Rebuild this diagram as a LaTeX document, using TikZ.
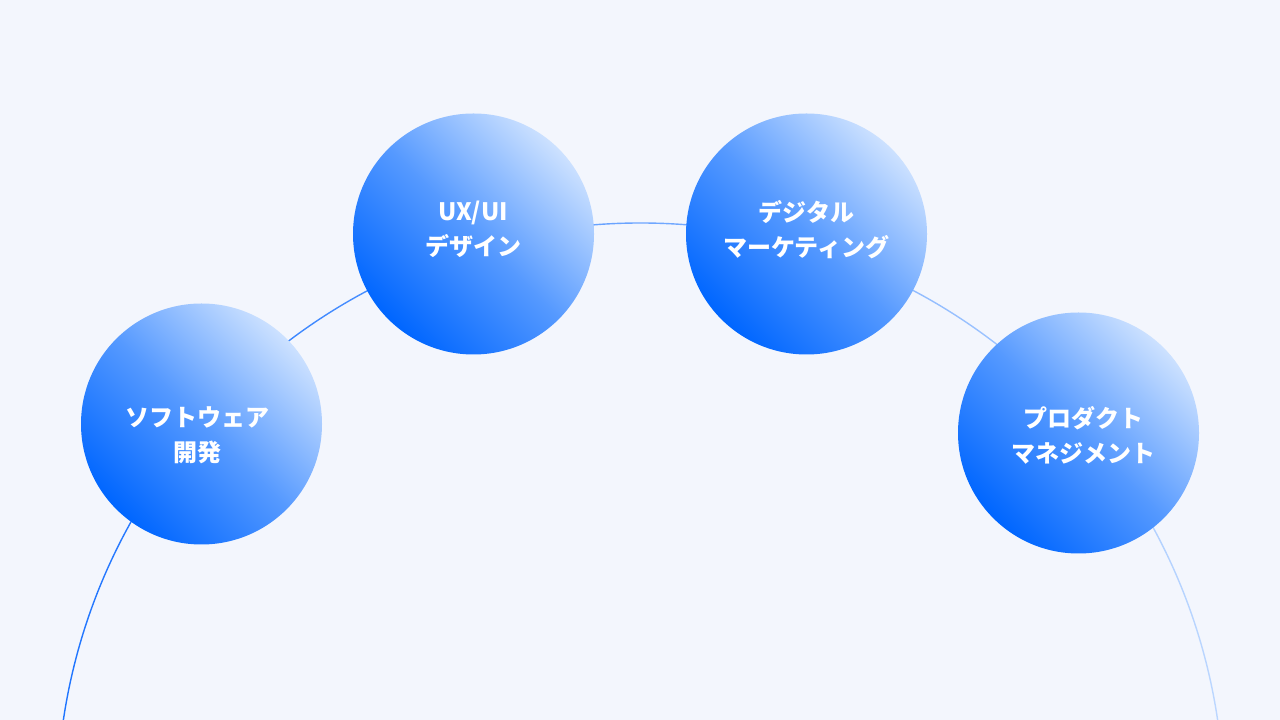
\documentclass[tikz,border=0pt]{standalone}
\usepackage{fontspec}
\newfontfamily\jp{Noto Sans CJK JP}
\definecolor{bg}{HTML}{F3F6FD}
\definecolor{cdark}{HTML}{0066FF}
\definecolor{cmid}{HTML}{5599FF}
\definecolor{clight}{HTML}{CCE1FF}
\definecolor{arcL}{HTML}{1E74FF}
\definecolor{arcR}{HTML}{BCD7FF}
\tikzset{
  bubble/.style={circle, minimum size=241pt, inner sep=0pt,
    top color=clight, bottom color=cdark, middle color=cmid, shading angle=-45},
  label/.style={text=white, align=center, font=\jp\bfseries\fontsize{24}{35}\selectfont}
}
\begin{document}
\begin{tikzpicture}[x=1pt,y=1pt]
\useasboundingbox (0,0) rectangle (1280,720);
\fill[bg] (0,0) rectangle (1280,720);
\coordinate (ctr) at (640.5,-86.5);
\shade[left color=arcL, right color=arcR, even odd rule]
  (ctr) circle (584.2) (ctr) circle (582.8);
\node[bubble] (c1) at (201.5,296) {};
\node[bubble] (c2) at (473.5,486) {};
\node[bubble] (c3) at (806.5,486) {};
\node[bubble] (c4) at (1078.5,287) {};
\node[label] (t1) at (197,285) {ソフトウェア\\開発};
\node[label] (t2) at (473,490.5) {UX/UI\\デザイン};
\node[label] (t3) at (806.5,490) {デジタル\\マーケティング};
\node[label] (t4) at (1083,285) {プロダクト\\マネジメント};
\end{tikzpicture}
\end{document}
